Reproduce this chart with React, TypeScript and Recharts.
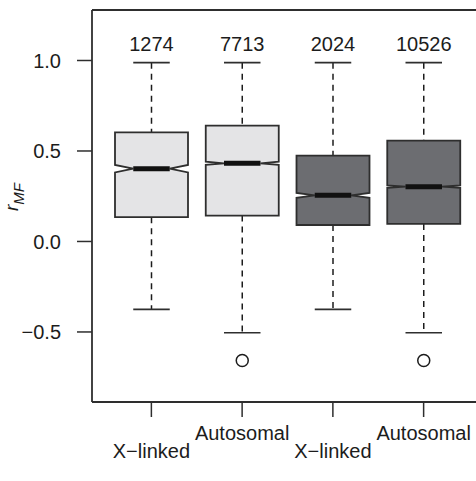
import React from 'react';
import { ComposedChart, Bar, XAxis, YAxis } from 'recharts';

// one box per group
const groups = ['X−linked', 'Autosomal', 'X−linked', 'Autosomal'];
const counts = [1274, 7713, 2024, 10526];
const whiskerLow = [-0.375, -0.504, -0.375, -0.504];
const lowerQuartile = [0.134, 0.143, 0.091, 0.097];
const medians = [0.402, 0.432, 0.255, 0.303];
const upperQuartile = [0.603, 0.64, 0.474, 0.557];
const whiskerHigh = [0.988, 0.988, 0.988, 0.988];
const outliers = [[], [-0.658], [], [-0.658]];
const yTicks = [-0.5, 0, 0.5, 1];

const FONT = '"Liberation Sans", Arial, Helvetica, sans-serif';
const TEXT = '#1c1c1c';
const FRAME = '#2e2e2e';
const LIGHT = '#e4e4e6';
const DARK = '#6c6d71';
const COUNT_Y = 1.053;

const data = groups.map((g, i) => ({
  key: String(i),
  label: g,
  n: counts[i],
  lo: whiskerLow[i],
  q1: lowerQuartile[i],
  med: medians[i],
  q3: upperQuartile[i],
  hi: whiskerHigh[i],
  out: outliers[i],
}));

// the bar spans lo..hi, so its rect gives the y scale for the rest of the box
const BoxShape = (props: any) => {
  const { x, y, width, height, payload, index } = props;
  const top = Math.min(y, y + height);
  const bottom = Math.max(y, y + height);
  const py = (v: number) => top + ((payload.hi - v) / (payload.hi - payload.lo)) * (bottom - top);
  const cx = x + width / 2;
  const waist = width / 4;
  const notch = (1.58 * (payload.q3 - payload.q1)) / Math.sqrt(payload.n);
  const yq3 = py(payload.q3);
  const yq1 = py(payload.q1);
  const ym = py(payload.med);
  const yn1 = py(payload.med + notch);
  const yn2 = py(payload.med - notch);
  const l = x;
  const r = x + width;
  const path =
    `M${l},${yq3} L${r},${yq3} L${r},${yn1} L${cx + waist},${ym} L${r},${yn2} L${r},${yq1} ` +
    `L${l},${yq1} L${l},${yn2} L${cx - waist},${ym} L${l},${yn1} Z`;
  const fill = index < 2 ? LIGHT : DARK;
  return (
    <g>
      <line x1={cx} x2={cx} y1={py(payload.hi)} y2={yq3} stroke={TEXT} strokeWidth={1.5} strokeDasharray="6 5" />
      <line x1={cx} x2={cx} y1={yq1} y2={py(payload.lo)} stroke={TEXT} strokeWidth={1.5} strokeDasharray="6 5" />
      <line x1={cx - waist} x2={cx + waist} y1={py(payload.hi)} y2={py(payload.hi)} stroke={FRAME} strokeWidth={1.6} />
      <line x1={cx - waist} x2={cx + waist} y1={py(payload.lo)} y2={py(payload.lo)} stroke={FRAME} strokeWidth={1.6} />
      <path d={path} fill={fill} stroke={FRAME} strokeWidth={1.8} strokeLinejoin="miter" />
      <line x1={cx - waist} x2={cx + waist} y1={ym} y2={ym} stroke="#111" strokeWidth={5} />
      {payload.out.map((v: number, k: number) => (
        <circle key={k} cx={cx} cy={py(v)} r={6} fill="#fff" stroke={TEXT} strokeWidth={1.5} />
      ))}
      <text x={cx} y={py(COUNT_Y)} textAnchor="middle" fontFamily={FONT} fontSize={20} fill={TEXT}>
        {payload.n}
      </text>
    </g>
  );
};

// R staggers the category labels on two lines
const XTick = (props: any) => {
  const { x, y, payload } = props;
  const i = payload.index;
  return (
    <text x={x} y={y} dy={i % 2 === 1 ? 23 : 41} textAnchor="middle" fontFamily={FONT} fontSize={20} fill={TEXT}>
      {groups[i]}
    </text>
  );
};

const YLabel = (props: any) => {
  const { viewBox } = props;
  const cx = viewBox.x + 18;
  const cy = viewBox.y + viewBox.height / 2 - 9;
  return (
    <text x={cx} y={cy} transform={`rotate(-90 ${cx} ${cy})`} textAnchor="middle" fontFamily={FONT} fill={TEXT} fontStyle="italic">
      <tspan fontSize={19}>r</tspan>
      <tspan fontSize={15} dy={6}>MF</tspan>
    </text>
  );
};

const App: React.FC = () => {
  return (
    <div style={{ position: 'absolute', left: 0, top: 0, width: 476, height: 481, overflow: 'hidden', background: '#fff' }}>
      <ComposedChart width={484} height={481} data={data} margin={{ top: 9, right: 1, bottom: 0, left: 0 }}>
        <XAxis
          dataKey="key"
          height={79}
          padding={{ left: 14, right: 14 }}
          interval={0}
          tickSize={15}
          tickMargin={0}
          tick={<XTick />}
          axisLine={{ stroke: FRAME, strokeWidth: 1.8 }}
          tickLine={{ stroke: FRAME, strokeWidth: 1.5 }}
        />
        <XAxis
          xAxisId="top"
          orientation="top"
          dataKey="key"
          height={1}
          tick={false}
          tickLine={false}
          axisLine={{ stroke: FRAME, strokeWidth: 1.8 }}
        />
        <YAxis
          type="number"
          domain={[-0.887, 1.279]}
          allowDataOverflow
          ticks={yTicks}
          width={92}
          tickSize={15}
          tickMargin={16}
          tickFormatter={(v: number) => v.toFixed(1).replace('-', '−')}
          tick={{ fontSize: 20, fill: TEXT, fontFamily: FONT }}
          axisLine={{ stroke: FRAME, strokeWidth: 1.8 }}
          tickLine={{ stroke: FRAME, strokeWidth: 1.5 }}
          label={{ content: YLabel }}
        />
        <Bar dataKey={(d: any) => [d.lo, d.hi]} barSize={73} shape={(p: any) => <BoxShape {...p} />} isAnimationActive={false} />
      </ComposedChart>
    </div>
  );
};

export default App;
